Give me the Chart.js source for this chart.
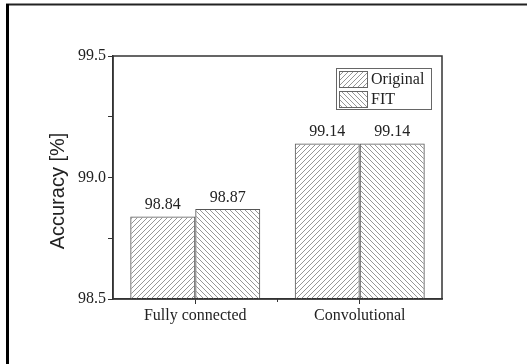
<!DOCTYPE html>
<html>
<head>
<meta charset="utf-8">
<script src="https://cdn.jsdelivr.net/npm/chart.js@4"></script>
<style>
  html, body { margin: 0; padding: 0; background: #fff; }
  #wrap { width: 527px; height: 364px; }
</style>
</head>
<body>
<div id="wrap"><canvas id="barChart" width="527" height="364"></canvas></div>
<script>
// data
const categories = ['Fully connected', 'Convolutional'];
const originalAcc = [98.84, 99.14];
const fitAcc = [98.87, 99.14];
const seriesNames = ['Original', 'FIT'];
const yTicks = [98.5, 99.0, 99.5];

// diagonal hatch fill, dir 1 = "/" and -1 = "\"
function hatch(dir) {
    const s = 5;
    const c = document.createElement('canvas');
    c.width = s; c.height = s;
    const g = c.getContext('2d');
    g.strokeStyle = '#8a8a8a';
    g.lineWidth = 0.9;
    g.beginPath();
    for (let k = -1; k <= 1; k++) {
        if (dir > 0) {
            g.moveTo(k * s, s); g.lineTo(k * s + s, 0);
        } else {
            g.moveTo(k * s, 0); g.lineTo(k * s + s, s);
        }
    }
    g.stroke();
    return g.createPattern(c, 'repeat');
}

const fills = [hatch(1), hatch(-1)];
const serif = '"Liberation Serif", "Times New Roman", serif';

// frame, box around plot, value labels, legend and y title
const decorations = {
    id: 'decorations',
    beforeDraw(chart) {
        const ctx = chart.ctx;
        ctx.save();
        ctx.fillStyle = '#fff';
        ctx.fillRect(0, 0, chart.width, chart.height);
        ctx.strokeStyle = '#222';
        ctx.lineWidth = 2;
        ctx.beginPath();
        ctx.moveTo(6, 4.5); ctx.lineTo(chart.width, 4.5);
        ctx.stroke();
        ctx.lineWidth = 3;
        ctx.strokeStyle = '#000';
        ctx.beginPath();
        ctx.moveTo(7.5, 4); ctx.lineTo(7.5, chart.height);
        ctx.stroke();
        ctx.restore();
    },
    afterDatasetsDraw(chart) {
        const ctx = chart.ctx;
        const a = chart.chartArea;
        ctx.save();

        // box around plot area
        ctx.strokeStyle = '#333';
        ctx.lineWidth = 1.5;
        ctx.strokeRect(a.left, a.top, a.right - a.left, a.bottom - a.top);

        // minor tick between the groups
        const xs = chart.scales.x;
        const mid = (xs.getPixelForValue(0) + xs.getPixelForValue(1)) / 2;
        ctx.lineWidth = 1;
        ctx.beginPath();
        ctx.moveTo(mid, a.bottom); ctx.lineTo(mid, a.bottom + 3);
        ctx.stroke();

        // values over the bars
        ctx.fillStyle = '#222';
        ctx.font = '16px ' + serif;
        ctx.textAlign = 'center';
        ctx.textBaseline = 'alphabetic';
        chart.data.datasets.forEach((ds, i) => {
            chart.getDatasetMeta(i).data.forEach((bar, j) => {
                ctx.fillText(ds.data[j].toFixed(2), bar.x, bar.y - 7);
            });
        });

        // legend box in the top right corner
        const lx = a.right - 106, ly = a.top + 12, lw = 95, lh = 41;
        ctx.strokeStyle = '#666';
        ctx.lineWidth = 1;
        ctx.strokeRect(lx + 0.5, ly + 0.5, lw, lh);
        ctx.textAlign = 'left';
        ctx.textBaseline = 'middle';
        chart.data.datasets.forEach((ds, i) => {
            const sy = ly + 3 + i * 20;
            ctx.fillStyle = ds.backgroundColor;
            ctx.fillRect(lx + 3, sy, 28, 16);
            ctx.strokeStyle = '#666';
            ctx.strokeRect(lx + 3.5, sy + 0.5, 28, 16);
            ctx.fillStyle = '#222';
            ctx.fillText(ds.label, lx + 35, sy + 9);
        });

        // y axis title
        ctx.translate(58, 191);
        ctx.rotate(-Math.PI / 2);
        ctx.font = '20px "Liberation Sans", Arial, sans-serif';
        ctx.textAlign = 'center';
        ctx.fillStyle = '#222';
        ctx.fillText('Accuracy [%]', 0, 0);
        ctx.restore();
    }
};

const ctx = document.getElementById('barChart');

window.chart = new Chart(ctx, {
    type: 'bar',
    data: {
        labels: categories,
        datasets: [{
            label: seriesNames[0],
            data: originalAcc,
            backgroundColor: fills[0],
            borderColor: '#555',
            borderWidth: 1
        }, {
            label: seriesNames[1],
            data: fitAcc,
            backgroundColor: fills[1],
            borderColor: '#555',
            borderWidth: 1
        }]
    },
    options: {
        responsive: false,
        animation: false,
        layout: { padding: { left: 0, top: 56, right: 85, bottom: 0 } },
        datasets: {
            bar: { categoryPercentage: 0.79, barPercentage: 1.0 }
        },
        plugins: {
            legend: { display: false },
            tooltip: { enabled: false }
        },
        scales: {
            x: {
                grid: {
                    offset: false,
                    drawOnChartArea: false,
                    tickLength: 5,
                    tickColor: '#333'
                },
                border: { color: '#333', width: 1.5 },
                ticks: {
                    color: '#222',
                    font: { family: serif, size: 16 },
                    padding: 2
                },
                afterFit(scale) { scale.height = 65; }
            },
            y: {
                min: yTicks[0],
                max: yTicks[yTicks.length - 1],
                grid: {
                    drawOnChartArea: false,
                    tickLength: 5,
                    tickColor: '#333'
                },
                border: { color: '#333', width: 1.5 },
                ticks: {
                    stepSize: 0.25,
                    color: '#222',
                    font: { family: serif, size: 16 },
                    padding: 2,
                    callback: v => yTicks.some(t => Math.abs(t - v) < 1e-6) ? v.toFixed(1) : ''
                },
                afterFit(scale) { scale.width = 113; }
            }
        }
    },
    plugins: [decorations]
});
</script>
</body>
</html>
